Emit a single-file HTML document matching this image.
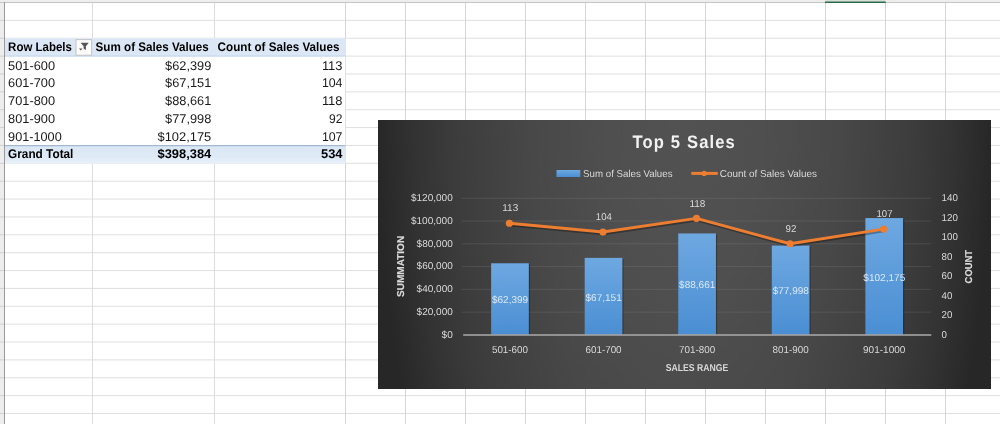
<!DOCTYPE html>
<html lang="en"><head><meta charset="utf-8"><title>Top 5 Sales</title>
<style>html,body{margin:0;padding:0;background:#fff;overflow:hidden}svg{display:block;text-rendering:geometricPrecision;font-family:'Liberation Sans', 'DejaVu Sans', sans-serif}</style>
</head><body>
<svg width="1000" height="424" viewBox="0 0 1000 424">
<defs>
<radialGradient id="bg" gradientUnits="userSpaceOnUse" cx="0" cy="0" r="1" gradientTransform="translate(684.5,118) scale(306.5,720)"><stop offset="0" stop-color="#525252"/><stop offset="0.25" stop-color="#4F4F4F"/><stop offset="0.5" stop-color="#484848"/><stop offset="0.75" stop-color="#3C3C3C"/><stop offset="0.875" stop-color="#333333"/><stop offset="1" stop-color="#272727"/></radialGradient>
<linearGradient id="bar" x1="0" y1="0" x2="0" y2="1"><stop offset="0" stop-color="#6EA8E1"/><stop offset="1" stop-color="#4A8ED3"/></linearGradient>
<linearGradient id="tot" x1="0" y1="0" x2="0" y2="1"><stop offset="0" stop-color="#DAE7F4"/><stop offset="0.6" stop-color="#DEEAF6"/><stop offset="1" stop-color="#E8F1FA"/></linearGradient>
</defs>
<rect x="0" y="0" width="1000" height="424" fill="#ffffff"/>
<path d="M5 20.37H1000M5 38.24H1000M5 56.11H1000M5 73.98H1000M5 91.85H1000M5 109.72H1000M5 127.59H1000M5 145.46H1000M5 163.33H1000M5 181.20H1000M5 199.07H1000M5 216.94H1000M5 234.81H1000M5 252.68H1000M5 270.55H1000M5 288.42H1000M5 306.29H1000M5 324.16H1000M5 342.03H1000M5 359.90H1000M5 377.77H1000M5 395.64H1000M5 413.51H1000" stroke="#DFDFDF" stroke-width="1" fill="none"/>
<path d="M92.50 0V424M214.50 0V424" stroke="#DDDDDD" stroke-width="1.05" fill="none"/>
<path d="M345.50 0V424M405.50 0V424M465.50 0V424M525.50 0V424M585.50 0V424M645.50 0V424M705.50 0V424M765.50 0V424M825.50 0V424M885.50 0V424M945.50 0V424" stroke="#D5D5D5" stroke-width="1" fill="none"/>
<rect x="0" y="0" width="1000" height="2" fill="#EDEDED"/>
<rect x="0" y="0" width="4.2" height="424" fill="#EDEDED"/>
<path d="M0 2.5H1000" stroke="#C6C6C6" stroke-width="1.1"/>
<path d="M4.5 2V424" stroke="#9A9A9A" stroke-width="1"/>
<path d="M0 20.37H4M0 38.24H4M0 56.11H4M0 73.98H4M0 91.85H4M0 109.72H4M0 127.59H4M0 145.46H4M0 163.33H4M0 181.20H4M0 199.07H4M0 216.94H4M0 234.81H4M0 252.68H4M0 270.55H4M0 288.42H4M0 306.29H4M0 324.16H4M0 342.03H4M0 359.90H4M0 377.77H4M0 395.64H4M0 413.51H4" stroke="#D0D0D0" stroke-width="1"/>
<rect x="825.3" y="0" width="60" height="1.6" fill="#D9DED9"/>
<path d="M825 2.2H885.8" stroke="#2B6B4C" stroke-width="1.6"/>
<rect x="5" y="38.24" width="340.30" height="125.09" fill="#ffffff"/>
<rect x="5" y="38.24" width="340.30" height="17.87" fill="#DCE7F5"/>
<path d="M5 56.11H345.30" stroke="#BCD3EC" stroke-width="1"/>
<rect x="5" y="145.46" width="340.30" height="18.17" fill="url(#tot)"/>
<path d="M5 145.66H345.30" stroke="#A4B9CF" stroke-width="1.1"/>
<rect x="76" y="39.6" width="15.6" height="15.6" fill="#FCFCFC" stroke="#C4C4C4" stroke-width="1"/>
<path d="M80.6 42.8H88.8L85.9 46.2V50.2L83.6 48.6V46.2Z" fill="#555"/>
<path d="M79 48.6H82.4L80.7 50.4Z" fill="#555"/>
<text x="8.10" y="51.39" font-size="12.4" fill="#000" font-weight="bold" textLength="63.80" lengthAdjust="spacingAndGlyphs">Row Labels</text>
<text x="95.60" y="51.39" font-size="12.4" fill="#000" font-weight="bold" textLength="113.20" lengthAdjust="spacingAndGlyphs">Sum of Sales Values</text>
<text x="217.60" y="51.39" font-size="12.4" fill="#000" font-weight="bold" textLength="121.80" lengthAdjust="spacingAndGlyphs">Count of Sales Values</text>
<text x="8.10" y="69.56" font-size="12.6" fill="#1a1a1a" textLength="46.90" lengthAdjust="spacingAndGlyphs">501-600</text>
<text x="211.30" y="69.56" font-size="12.6" fill="#1a1a1a" text-anchor="end" textLength="46.20" lengthAdjust="spacingAndGlyphs">$62,399</text>
<text x="342.50" y="69.56" font-size="12.6" fill="#1a1a1a" text-anchor="end" textLength="20.60" lengthAdjust="spacingAndGlyphs">113</text>
<text x="8.10" y="87.43" font-size="12.6" fill="#1a1a1a" textLength="46.90" lengthAdjust="spacingAndGlyphs">601-700</text>
<text x="211.30" y="87.43" font-size="12.6" fill="#1a1a1a" text-anchor="end" textLength="46.20" lengthAdjust="spacingAndGlyphs">$67,151</text>
<text x="342.50" y="87.43" font-size="12.6" fill="#1a1a1a" text-anchor="end" textLength="20.60" lengthAdjust="spacingAndGlyphs">104</text>
<text x="8.10" y="105.30" font-size="12.6" fill="#1a1a1a" textLength="46.90" lengthAdjust="spacingAndGlyphs">701-800</text>
<text x="211.30" y="105.30" font-size="12.6" fill="#1a1a1a" text-anchor="end" textLength="46.20" lengthAdjust="spacingAndGlyphs">$88,661</text>
<text x="342.50" y="105.30" font-size="12.6" fill="#1a1a1a" text-anchor="end" textLength="20.60" lengthAdjust="spacingAndGlyphs">118</text>
<text x="8.10" y="123.17" font-size="12.6" fill="#1a1a1a" textLength="46.90" lengthAdjust="spacingAndGlyphs">801-900</text>
<text x="211.30" y="123.17" font-size="12.6" fill="#1a1a1a" text-anchor="end" textLength="46.20" lengthAdjust="spacingAndGlyphs">$77,998</text>
<text x="342.50" y="123.17" font-size="12.6" fill="#1a1a1a" text-anchor="end" textLength="13.40" lengthAdjust="spacingAndGlyphs">92</text>
<text x="8.10" y="141.04" font-size="12.6" fill="#1a1a1a" textLength="53.60" lengthAdjust="spacingAndGlyphs">901-1000</text>
<text x="211.30" y="141.04" font-size="12.6" fill="#1a1a1a" text-anchor="end" textLength="53.80" lengthAdjust="spacingAndGlyphs">$102,175</text>
<text x="342.50" y="141.04" font-size="12.6" fill="#1a1a1a" text-anchor="end" textLength="20.60" lengthAdjust="spacingAndGlyphs">107</text>
<text x="8.10" y="158.01" font-size="12.6" fill="#000" font-weight="bold" textLength="65.30" lengthAdjust="spacingAndGlyphs">Grand Total</text>
<text x="211.30" y="158.01" font-size="12.6" fill="#000" text-anchor="end" font-weight="bold" textLength="53.80" lengthAdjust="spacingAndGlyphs">$398,384</text>
<text x="342.50" y="158.01" font-size="12.6" fill="#000" text-anchor="end" font-weight="bold" textLength="21.50" lengthAdjust="spacingAndGlyphs">534</text>
<rect x="378" y="120" width="613" height="269" fill="url(#bg)"/>
<text transform="translate(632.6,148.1) scale(0.92,1)" font-size="18" fill="#F2F2F2" font-weight="bold" textLength="111.09" lengthAdjust="spacing">Top 5 Sales</text>
<rect x="556.5" y="170" width="23.8" height="7" fill="url(#bar)"/>
<text x="583.10" y="176.50" font-size="10.0" fill="#D9D9D9" textLength="89.40" lengthAdjust="spacingAndGlyphs">Sum of Sales Values</text>
<path d="M691.3 173.4H717.8" stroke="#ED7D31" stroke-width="3"/>
<circle cx="704.2" cy="173.4" r="2.6" fill="#ED7D31"/>
<text x="719.80" y="176.50" font-size="10.0" fill="#D9D9D9" textLength="97.10" lengthAdjust="spacingAndGlyphs">Count of Sales Values</text>
<path d="M461.5 312.13H931.0M461.5 289.36H931.0M461.5 266.59H931.0M461.5 243.82H931.0M461.5 221.05H931.0M461.5 198.28H931.0" stroke="#9A9A9A" stroke-opacity="0.2" stroke-width="1"/>
<text x="452.80" y="337.75" font-size="10.0" fill="#D9D9D9" text-anchor="end" textLength="11.20" lengthAdjust="spacingAndGlyphs">$0</text>
<text x="452.80" y="314.98" font-size="10.0" fill="#D9D9D9" text-anchor="end" textLength="36.20" lengthAdjust="spacingAndGlyphs">$20,000</text>
<text x="452.80" y="292.21" font-size="10.0" fill="#D9D9D9" text-anchor="end" textLength="36.20" lengthAdjust="spacingAndGlyphs">$40,000</text>
<text x="452.80" y="269.44" font-size="10.0" fill="#D9D9D9" text-anchor="end" textLength="36.20" lengthAdjust="spacingAndGlyphs">$60,000</text>
<text x="452.80" y="246.67" font-size="10.0" fill="#D9D9D9" text-anchor="end" textLength="36.20" lengthAdjust="spacingAndGlyphs">$80,000</text>
<text x="452.80" y="223.90" font-size="10.0" fill="#D9D9D9" text-anchor="end" textLength="41.90" lengthAdjust="spacingAndGlyphs">$100,000</text>
<text x="452.80" y="201.13" font-size="10.0" fill="#D9D9D9" text-anchor="end" textLength="41.90" lengthAdjust="spacingAndGlyphs">$120,000</text>
<text x="941.60" y="337.75" font-size="10.0" fill="#D9D9D9" textLength="5.40" lengthAdjust="spacingAndGlyphs">0</text>
<text x="941.60" y="318.23" font-size="10.0" fill="#D9D9D9" textLength="10.80" lengthAdjust="spacingAndGlyphs">20</text>
<text x="941.60" y="298.72" font-size="10.0" fill="#D9D9D9" textLength="10.80" lengthAdjust="spacingAndGlyphs">40</text>
<text x="941.60" y="279.20" font-size="10.0" fill="#D9D9D9" textLength="10.80" lengthAdjust="spacingAndGlyphs">60</text>
<text x="941.60" y="259.68" font-size="10.0" fill="#D9D9D9" textLength="10.80" lengthAdjust="spacingAndGlyphs">80</text>
<text x="941.60" y="240.16" font-size="10.0" fill="#D9D9D9" textLength="16.30" lengthAdjust="spacingAndGlyphs">100</text>
<text x="941.60" y="220.65" font-size="10.0" fill="#D9D9D9" textLength="16.30" lengthAdjust="spacingAndGlyphs">120</text>
<text x="941.60" y="201.13" font-size="10.0" fill="#D9D9D9" textLength="16.30" lengthAdjust="spacingAndGlyphs">140</text>
<rect x="492.33" y="264.28" width="37.70" height="70.92" fill="#000" fill-opacity="0.28"/>
<rect x="491.13" y="263.28" width="37.70" height="71.52" fill="url(#bar)"/>
<rect x="585.89" y="258.88" width="37.70" height="76.32" fill="#000" fill-opacity="0.28"/>
<rect x="584.69" y="257.88" width="37.70" height="76.92" fill="url(#bar)"/>
<rect x="679.45" y="234.44" width="37.70" height="100.76" fill="#000" fill-opacity="0.28"/>
<rect x="678.25" y="233.44" width="37.70" height="101.36" fill="url(#bar)"/>
<rect x="773.01" y="246.56" width="37.70" height="88.64" fill="#000" fill-opacity="0.28"/>
<rect x="771.81" y="245.56" width="37.70" height="89.24" fill="url(#bar)"/>
<rect x="866.57" y="219.08" width="37.70" height="116.12" fill="#000" fill-opacity="0.28"/>
<rect x="865.37" y="218.08" width="37.70" height="116.72" fill="url(#bar)"/>
<path d="M463.2 335.0H931.3" stroke="#ABABAB" stroke-width="1.4"/>
<text x="510.08" y="303.34" font-size="10.0" fill="#DCE8F5" text-anchor="middle" textLength="36.20" lengthAdjust="spacingAndGlyphs">$62,399</text>
<text x="603.64" y="300.64" font-size="10.0" fill="#DCE8F5" text-anchor="middle" textLength="36.20" lengthAdjust="spacingAndGlyphs">$67,151</text>
<text x="697.20" y="288.42" font-size="10.0" fill="#DCE8F5" text-anchor="middle" textLength="36.20" lengthAdjust="spacingAndGlyphs">$88,661</text>
<text x="790.76" y="294.48" font-size="10.0" fill="#DCE8F5" text-anchor="middle" textLength="36.20" lengthAdjust="spacingAndGlyphs">$77,998</text>
<text x="884.32" y="280.74" font-size="10.0" fill="#DCE8F5" text-anchor="middle" textLength="41.90" lengthAdjust="spacingAndGlyphs">$102,175</text>
<text x="509.98" y="352.60" font-size="10.0" fill="#D9D9D9" text-anchor="middle" textLength="36.10" lengthAdjust="spacingAndGlyphs">501-600</text>
<text x="603.54" y="352.60" font-size="10.0" fill="#D9D9D9" text-anchor="middle" textLength="36.10" lengthAdjust="spacingAndGlyphs">601-700</text>
<text x="697.10" y="352.60" font-size="10.0" fill="#D9D9D9" text-anchor="middle" textLength="36.10" lengthAdjust="spacingAndGlyphs">701-800</text>
<text x="790.66" y="352.60" font-size="10.0" fill="#D9D9D9" text-anchor="middle" textLength="36.10" lengthAdjust="spacingAndGlyphs">801-900</text>
<text x="884.22" y="352.60" font-size="10.0" fill="#D9D9D9" text-anchor="middle" textLength="42.40" lengthAdjust="spacingAndGlyphs">901-1000</text>
<path d="M509.38 223.24L602.94 232.04L696.50 218.35L790.06 243.77L883.62 229.10" transform="translate(0.6,1.6)" stroke="#000" stroke-opacity="0.3" stroke-width="3.2" fill="none" stroke-linejoin="round" stroke-linecap="round"/>
<path d="M509.38 223.24L602.94 232.04L696.50 218.35L790.06 243.77L883.62 229.10" stroke="#ED7D31" stroke-width="2.9" fill="none" stroke-linejoin="round" stroke-linecap="round"/>
<circle cx="509.38" cy="223.24" r="3.6" fill="#ED7D31"/>
<circle cx="602.94" cy="232.04" r="3.6" fill="#ED7D31"/>
<circle cx="696.50" cy="218.35" r="3.6" fill="#ED7D31"/>
<circle cx="790.06" cy="243.77" r="3.6" fill="#ED7D31"/>
<circle cx="883.62" cy="229.10" r="3.6" fill="#ED7D31"/>
<text x="510.28" y="211.44" font-size="10.0" fill="#D9D9D9" text-anchor="middle" textLength="16.00" lengthAdjust="spacingAndGlyphs">113</text>
<text x="603.84" y="220.24" font-size="10.0" fill="#D9D9D9" text-anchor="middle" textLength="16.00" lengthAdjust="spacingAndGlyphs">104</text>
<text x="697.40" y="206.55" font-size="10.0" fill="#D9D9D9" text-anchor="middle" textLength="16.00" lengthAdjust="spacingAndGlyphs">118</text>
<text x="790.96" y="231.97" font-size="10.0" fill="#D9D9D9" text-anchor="middle" textLength="10.80" lengthAdjust="spacingAndGlyphs">92</text>
<text x="884.52" y="217.30" font-size="10.0" fill="#D9D9D9" text-anchor="middle" textLength="16.00" lengthAdjust="spacingAndGlyphs">107</text>
<text x="697.00" y="370.60" font-size="10.0" fill="#D9D9D9" text-anchor="middle" font-weight="bold" textLength="62.50" lengthAdjust="spacingAndGlyphs">SALES RANGE</text>
<text transform="translate(403.7,266.4) rotate(-90)" font-size="10.0" fill="#D9D9D9" font-weight="bold" stroke="#D9D9D9" stroke-width="0.15" text-anchor="middle" textLength="61" lengthAdjust="spacingAndGlyphs">SUMMATION</text>
<text transform="translate(971.6,266.7) rotate(-90)" font-size="10.0" fill="#D9D9D9" font-weight="bold" stroke="#D9D9D9" stroke-width="0.15" text-anchor="middle" textLength="33.4" lengthAdjust="spacingAndGlyphs">COUNT</text>
</svg>
</body></html>
